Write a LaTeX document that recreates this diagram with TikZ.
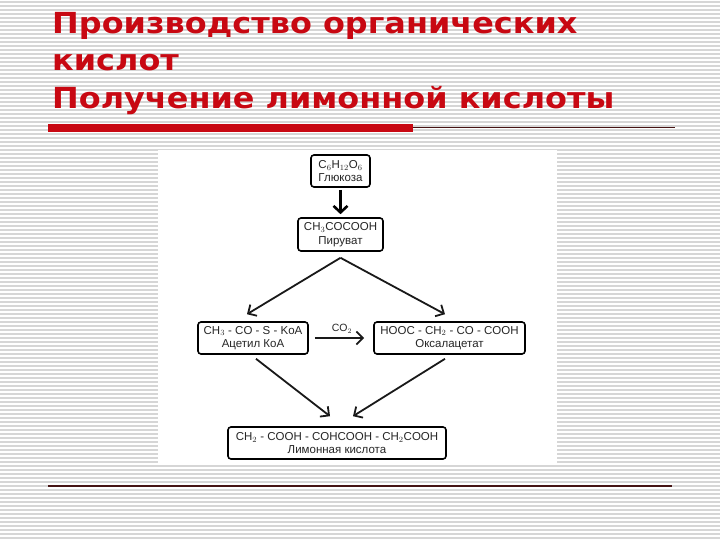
\documentclass[tikz,border=0pt]{standalone}
\usepackage{fontspec}
\setmainfont{Liberation Sans}
\newfontfamily\titlefont{DejaVu Sans}
\usetikzlibrary{arrows.meta,calc}
\definecolor{titlered}{RGB}{200,8,18}
\definecolor{stripegray}{RGB}{214,214,214}
\definecolor{linedark}{RGB}{70,20,20}
\tikzset{
  stripe/.style={draw=stripegray,line width=1.3pt},
  chem/.style={draw=black,line width=1.6pt,rounded corners=3pt,fill=white,
    align=center,inner sep=0pt,font=\fontsize{11.5}{13.5}\selectfont,text=black!85},
  flow/.style={draw=black!90,line width=1.8pt,-{Straight Barb[length=6.5pt,width=13pt,line width=1.8pt]}},
  bigflow/.style={draw=black,line width=2.8pt,-{Straight Barb[length=6.5pt,width=14pt,line width=2.6pt]}},
  ttl/.style={anchor=base west,inner sep=0pt,text=titlered,xscale=1.1,transform shape,
    font=\titlefont\bfseries\fontsize{29}{32}\selectfont}
}
\begin{document}
\begin{tikzpicture}[x=1pt,y=-1pt]
\useasboundingbox (0,0) rectangle (720,540);
\fill[white] (0,0) rectangle (720,540);
\foreach \yy in {2,6,...,538} \draw[stripe] (0,\yy) -- (720,\yy);
% title
\node[ttl] (t1) at (52,33.5) {Производство органических};
\node[ttl] (t2) at (52,71) {кислот};
\node[ttl] (t3) at (52,108.5) {Получение лимонной кислоты};
% rules
\fill[titlered] (48,124) rectangle (413,132);
\draw[linedark,line width=1pt] (413,128) -- (675,128);
\draw[linedark,line width=1.6pt] (48,486) -- (672,486);
% diagram panel
\fill[white] (158,150) rectangle (557,465);
% boxes
\node[chem,minimum width=59pt,minimum height=32pt] (gl) at (340.5,171) {C$_6$H$_{12}$O$_6$\\Глюкоза};
\node[chem,minimum width=85pt,minimum height=33pt] (py) at (340.5,234.5) {CH$_3$COCOOH\\Пируват};
\node[chem,minimum width=110pt,minimum height=32pt] (ac) at (253,338) {CH$_3$ - CO - S - KoA\\Ацетил КоА};
\node[chem,minimum width=151pt,minimum height=32pt] (ox) at (449.5,338) {HOOC - CH$_2$ - CO - COOH\\Оксалацетат};
\node[chem,minimum width=218pt,minimum height=32pt] (ci) at (337,443) {CH$_2$ - COOH - COHCOOH - CH$_2$COOH\\Лимонная кислота};
\node[font=\fontsize{10.5}{12}\selectfont,text=black!85,inner sep=0pt] (co) at (342,329) {CO$_2$};
% arrows
\draw[bigflow] ([yshift=-2pt]gl.south) -- ([yshift=3pt]py.north);
\draw[flow] ([yshift=-6pt]py.south) -- ([xshift=-6pt,yshift=7pt]ac.north);
\draw[flow] ([yshift=-6pt]py.south) -- ([xshift=-4.5pt,yshift=7pt]ox.north);
\draw[flow] ([xshift=6pt]ac.east) -- ([xshift=-9pt]ox.west);
\draw[flow] ([xshift=3pt,yshift=-4pt]ac.south) -- ([xshift=-7pt,yshift=10pt]ci.north);
\draw[flow] ([xshift=-4.5pt,yshift=-4pt]ox.south) -- ([xshift=16pt,yshift=10pt]ci.north);
\end{tikzpicture}
\end{document}
